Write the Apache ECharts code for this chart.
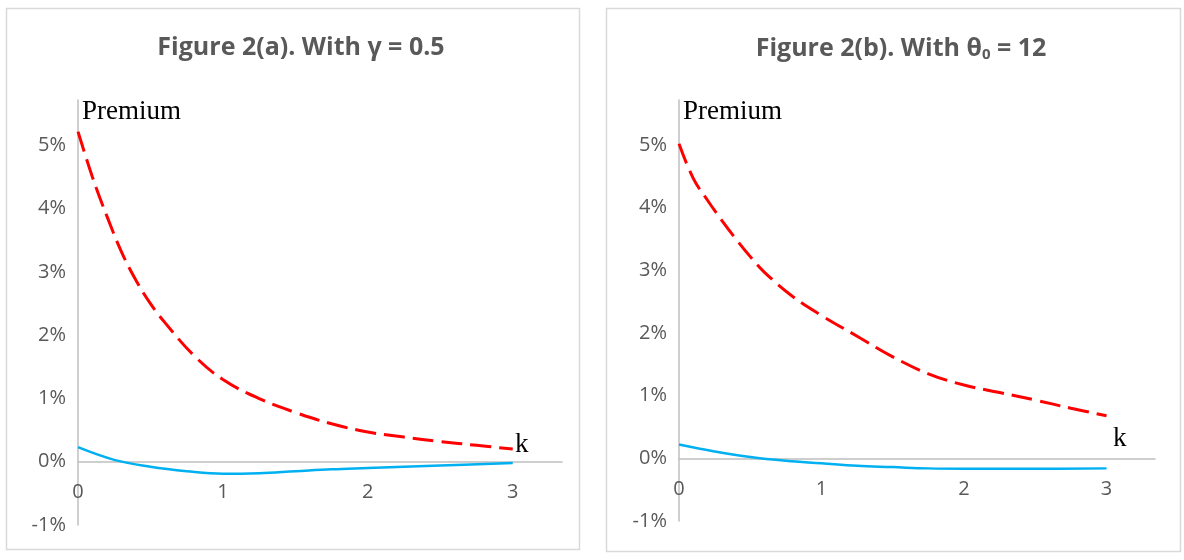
<!DOCTYPE html>
<html>
<head>
<meta charset="utf-8">
<script src="https://cdn.jsdelivr.net/npm/echarts@6/dist/echarts.min.js"></script>
<style>
  html, body { margin: 0; padding: 0; background: #fff; }
  #chart { width: 1184px; height: 560px; }
</style>
</head>
<body>
<div id="chart"></div>
<script>
// k values for the red (dashed) curves
var kRed = [0, 0.1, 0.2, 0.3, 0.4, 0.5, 0.6, 0.8, 1, 1.25, 1.5, 1.75, 2, 2.25, 2.5, 2.75, 3];
// Figure 2(a), premium in %
var redA = [5.22, 4.5, 3.88, 3.32, 2.87, 2.5, 2.2, 1.68, 1.3, 1.0, 0.78, 0.6, 0.47, 0.39, 0.32, 0.26, 0.2];
// Figure 2(b), premium in %
var redB = [5.02, 4.47, 4.12, 3.8, 3.5, 3.22, 2.97, 2.58, 2.28, 1.95, 1.62, 1.35, 1.17, 1.05, 0.93, 0.8, 0.68];

// k values for the blue (solid) curves
var kBlue = [0, 0.25, 0.5, 0.75, 1, 1.25, 1.5, 1.75, 2, 2.5, 3];
var blueA = [0.23, 0.03, -0.08, -0.15, -0.19, -0.18, -0.15, -0.12, -0.1, -0.06, -0.02];
var blueB = [0.22, 0.11, 0.02, -0.04, -0.08, -0.12, -0.14, -0.16, -0.165, -0.165, -0.16];

var titles = ['Figure 2(a). With γ = 0.5', 'Figure 2(b). With θ{sub|0} = 12'];
var yName = 'Premium';
var xName = 'k';

var yMin = -1, yMax = 5.72;

function pairs(xs, ys) {
  return xs.map(function (x, i) { return [x, ys[i]]; });
}

var grey = '#595959';
var axisGrey = '#bfbfbf';
var labelFont = 'Open Sans';
var serif = 'Liberation Serif';

var grids = [
  { left: 78, top: 100, width: 484, height: 425 },
  { left: 679, top: 100, width: 476, height: 421 }
];

// x axis sits on the 0% line (labels too), like the Excel original
function xAxisFor(i, gap, pad) {
  var zeroOffset = -grids[i].height * (0 - yMin) / (yMax - yMin);
  return {
    type: 'value', gridIndex: i, min: 0, max: 3.34, interval: 1,
    position: 'bottom', offset: zeroOffset,
    axisLine: { onZero: false, lineStyle: { color: axisGrey, width: 1.5 } },
    axisTick: { show: false },
    splitLine: { show: false },
    axisLabel: {
      margin: 21, color: grey, fontFamily: labelFont, fontSize: 20,
      formatter: function (v) { return Number.isInteger(v) ? String(v) : ''; }
    },
    name: xName, nameLocation: 'end', nameGap: gap,
    nameTextStyle: { fontFamily: serif, fontSize: 27, color: '#000', verticalAlign: 'bottom', padding: pad }
  };
}

function yAxisFor(i) {
  return {
    type: 'value', gridIndex: i, min: yMin, max: yMax, interval: 1,
    axisLine: { show: true, onZero: false, lineStyle: { color: axisGrey, width: 1.5 } },
    axisTick: { show: false },
    splitLine: { show: false },
    axisLabel: {
      margin: 12, color: grey, fontFamily: labelFont, fontSize: 20,
      formatter: function (v) { return Number.isInteger(v) ? v + '%' : ''; }
    },
    name: yName, nameLocation: 'end', nameGap: -12,
    nameTextStyle: { fontFamily: serif, fontSize: 27, color: '#000', align: 'left', verticalAlign: 'middle', padding: [0, 0, 0, 4] }
  };
}

function redSeries(i, xs, ys) {
  return {
    type: 'line', xAxisIndex: i, yAxisIndex: i, data: pairs(xs, ys),
    smooth: 0.4, showSymbol: false, silent: true,
    lineStyle: { color: '#ff0000', width: 3, type: [21, 8] }
  };
}

function blueSeries(i, xs, ys) {
  return {
    type: 'line', xAxisIndex: i, yAxisIndex: i, data: pairs(xs, ys),
    smooth: 0.4, showSymbol: false, silent: true,
    lineStyle: { color: '#00b0f0', width: 2.5 }
  };
}

var titleStyle = {
  fontFamily: labelFont, fontSize: 25, fontWeight: 'bold', color: grey,
  rich: { sub: { fontFamily: labelFont, fontSize: 15, fontWeight: 'bold', color: grey, verticalAlign: 'bottom', padding: [12, 0, 0, 0] } }
};

var chart = echarts.init(document.getElementById('chart'), null, { renderer: 'canvas' });

chart.setOption({
  animation: false,
  backgroundColor: '#fff',
  title: [
    { text: titles[0], left: 296, top: 30, textAlign: 'center', textStyle: titleStyle },
    { text: titles[1], left: 896, top: 30, textAlign: 'center', textStyle: titleStyle }
  ],
  graphic: [
    { type: 'rect', shape: { x: 6.5, y: 8.5, width: 573, height: 541 }, style: { fill: null, stroke: '#d9d9d9', lineWidth: 1.5 }, silent: true },
    { type: 'rect', shape: { x: 606.5, y: 8.5, width: 574, height: 543 }, style: { fill: null, stroke: '#d9d9d9', lineWidth: 1.5 }, silent: true }
  ],
  grid: grids,
  xAxis: [xAxisFor(0, -47, [0, 0, 3, 0]), xAxisFor(1, -42, [0, 0, 6, 0])],
  yAxis: [yAxisFor(0), yAxisFor(1)],
  series: [
    redSeries(0, kRed, redA),
    blueSeries(0, kBlue, blueA),
    redSeries(1, kRed, redB),
    blueSeries(1, kBlue, blueB)
  ]
});
</script>
</body>
</html>
